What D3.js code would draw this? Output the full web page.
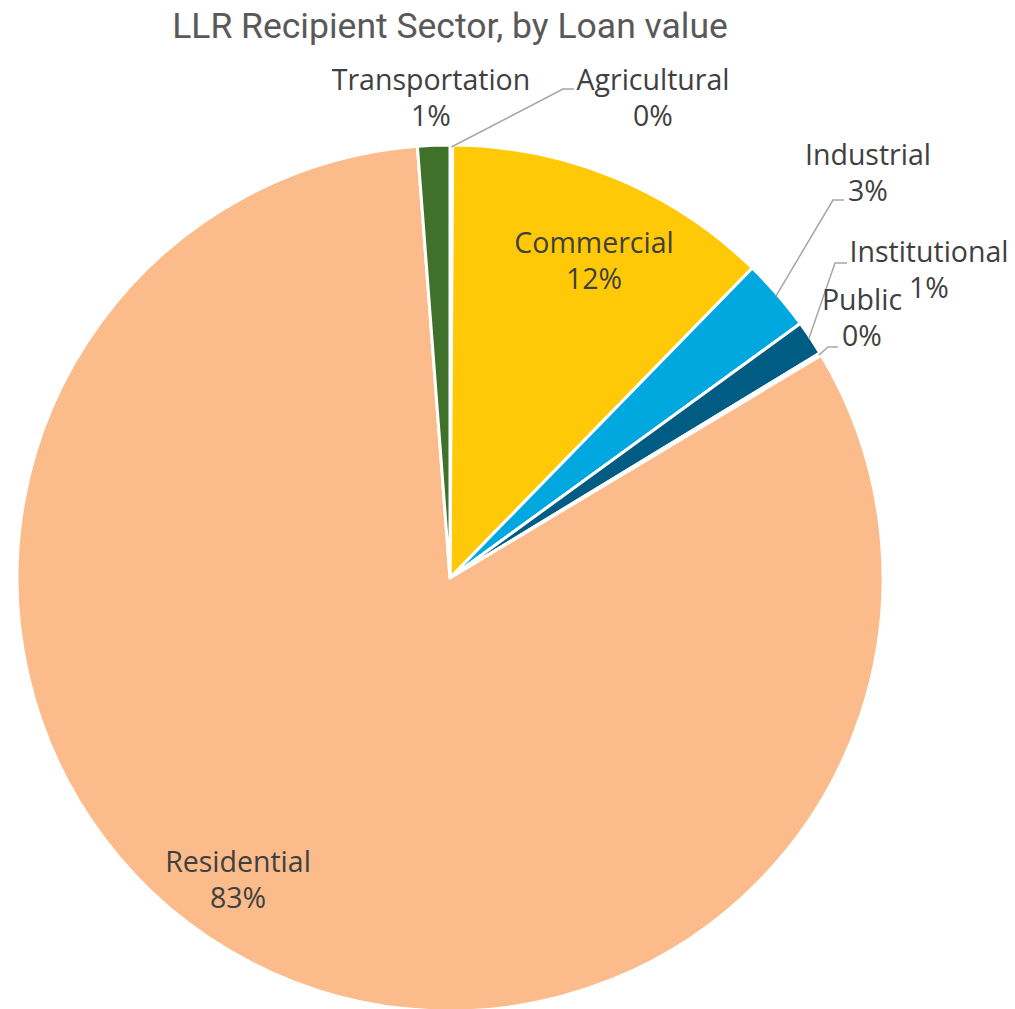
<!DOCTYPE html>
<html>
<head>
<meta charset="utf-8">
<script src="https://cdn.jsdelivr.net/npm/d3@7"></script>
<style>
  body { margin: 0; background: #fff; }
  text { font-family: "Open Sans", "Liberation Sans", sans-serif; }
</style>
</head>
<body>
<div id="chart"></div>
<script>
// Data (share of loan value, %)
var sectors = ["Agricultural", "Commercial", "Industrial", "Institutional", "Public", "Residential", "Transportation"];
var shares = [0.1, 12.2, 2.7, 1.3, 0.1, 82.4, 1.2];
var shownPct = ["0%", "12%", "3%", "1%", "0%", "83%", "1%"];
var colors = ["#a5a5a5", "#ffc907", "#00a8df", "#005c83", "#4472c4", "#fbbb8b", "#3f712a"];

// label placement (centre of label block), leader elbows for outside labels
var labelPos = [
  {x: 653, y: 80, elbow: [563, 89], end: [574, 89]},
  {x: 594, y: 243},
  {x: 868, y: 155, elbow: [833, 200], end: [844, 200]},
  {x: 929, y: 252, elbow: [835, 263], end: [847, 263]},
  {x: 862, y: 300, elbow: [828, 347], end: [838, 347]},
  {x: 238, y: 862},
  {x: 431, y: 80}
];

var width = 1015, height = 1009;
var cx = 450, cy = 578, radius = 433;

var svg = d3.select("#chart")
    .append("svg")
    .attr("width", width)
    .attr("height", height);

// Title
svg.append("text")
    .attr("x", 450)
    .attr("y", 38)
    .attr("text-anchor", "middle")
    .style("font-family", "Roboto, 'Liberation Sans', sans-serif")
    .style("font-size", "35.5px")
    .style("fill", "#595959")
    .text("LLR Recipient Sector, by Loan value");

var data = sectors.map(function(s, i) {
  return {name: s, value: shares[i], pct: shownPct[i], color: colors[i], pos: labelPos[i]};
});

var pie = d3.pie().sort(null).value(function(d) { return d.value; });
var arc = d3.arc().innerRadius(0).outerRadius(radius);

var g = svg.append("g")
    .attr("transform", "translate(" + cx + "," + cy + ")");

var arcs = pie(data);

g.selectAll("path.slice")
    .data(arcs)
    .enter()
    .append("path")
    .attr("class", "slice")
    .attr("d", arc)
    .attr("fill", function(d) { return d.data.color; })
    .attr("stroke", "#fff")
    .attr("stroke-width", 3)
    .attr("stroke-linejoin", "round");

// Leader lines from the slice edge to the label
arcs.forEach(function(d) {
  var p = d.data.pos;
  if (!p.elbow) return;
  var mid = (d.startAngle + d.endAngle) / 2;
  var sx = cx + Math.sin(mid) * (radius - 2),
      sy = cy - Math.cos(mid) * (radius - 2);
  svg.append("polyline")
      .attr("points", [[sx, sy], p.elbow, p.end].map(function(q) { return q.join(","); }).join(" "))
      .attr("fill", "none")
      .attr("stroke", "#a6a6a6")
      .attr("stroke-width", 1.5);
});

// Labels
var labels = svg.selectAll("text.lbl")
    .data(data)
    .enter()
    .append("text")
    .attr("class", "lbl")
    .attr("text-anchor", "middle")
    .style("font-size", "28.5px")
    .style("font-weight", 500)
    .style("fill", "#404040");

labels.append("tspan")
    .attr("x", function(d) { return d.pos.x; })
    .attr("y", function(d) { return d.pos.y + 10; })
    .text(function(d) { return d.name; });

labels.append("tspan")
    .attr("x", function(d) { return d.pos.x; })
    .attr("y", function(d) { return d.pos.y + 46; })
    .text(function(d) { return d.pct; });
</script>
</body>
</html>
